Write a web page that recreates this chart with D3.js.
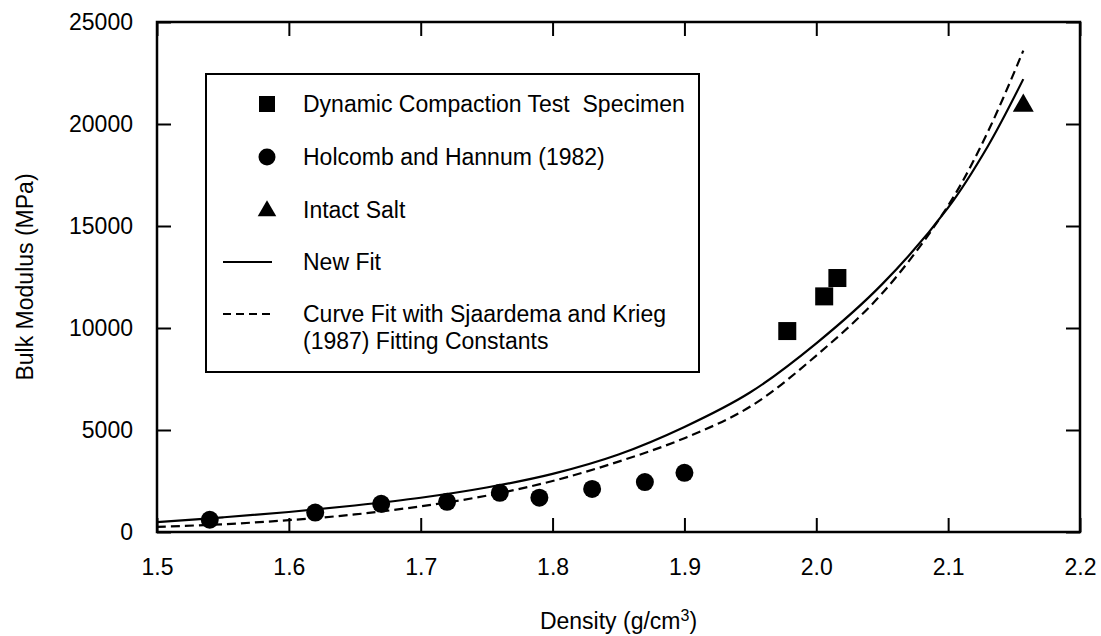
<!DOCTYPE html>
<html>
<head>
<meta charset="utf-8">
<script src="https://cdn.jsdelivr.net/npm/d3@7"></script>
<style>
  body { margin: 0; background: #fff; }
  svg text { font-family: "Liberation Sans", Arial, sans-serif; fill: #000; }
</style>
</head>
<body>
<div id="chart"></div>
<script>
// data
const dynDensity = [1.978, 2.006, 2.016];
const dynModulus = [9850, 11550, 12450];

const holDensity = [1.54, 1.62, 1.67, 1.72, 1.76, 1.79, 1.83, 1.87, 1.90];
const holModulus = [600, 950, 1380, 1480, 1920, 1680, 2110, 2450, 2900];

const saltDensity = [2.157];
const saltModulus = [20900];

const fitDensity = [1.50, 1.55, 1.60, 1.65, 1.70, 1.75, 1.80, 1.85, 1.90, 1.95, 2.00, 2.05, 2.10, 2.13, 2.157];
const newFit = [480, 720, 980, 1300, 1680, 2180, 2850, 3800, 5150, 6850, 9250, 12150, 15900, 18900, 22200];
const skFit = [250, 380, 580, 860, 1260, 1780, 2500, 3450, 4600, 6150, 8650, 11700, 16000, 19600, 23600];

const xTicks = [1.5, 1.6, 1.7, 1.8, 1.9, 2.0, 2.1, 2.2];
const yTicks = [0, 5000, 10000, 15000, 20000, 25000];

const W = 1101, H = 636;
const svg = d3.select('#chart').append('svg')
    .attr('width', W)
    .attr('height', H);

const xScale = d3.scaleLinear().domain([1.5, 2.2]).range([157, 1080]);
const yScale = d3.scaleLinear().domain([0, 25000]).range([532, 22]);

const fs = 23;

// ticks (inward) on all four sides
const tickLen = 14;
const bottomAxis = svg.append('g')
    .attr('transform', `translate(0, ${yScale(0)})`)
    .call(d3.axisBottom(xScale).tickValues(xTicks).tickSize(-tickLen).tickPadding(tickLen + 13)
        .tickFormat(d => d.toFixed(1)));
const topAxis = svg.append('g')
    .attr('transform', `translate(0, ${yScale(25000)})`)
    .call(d3.axisTop(xScale).tickValues(xTicks).tickSize(-tickLen).tickFormat(''));
const leftAxis = svg.append('g')
    .attr('transform', `translate(${xScale(1.5)}, 0)`)
    .call(d3.axisLeft(yScale).tickValues(yTicks).tickSize(-tickLen).tickPadding(tickLen + 10)
        .tickFormat(d3.format('d')));
const rightAxis = svg.append('g')
    .attr('transform', `translate(${xScale(2.2)}, 0)`)
    .call(d3.axisRight(yScale).tickValues(yTicks).tickSize(-tickLen).tickFormat(''));

[bottomAxis, topAxis, leftAxis, rightAxis].forEach(g => {
    g.select('.domain').remove();
    g.selectAll('line').attr('stroke', '#000').attr('stroke-width', 2);
    g.selectAll('text').style('font-size', fs + 'px').attr('font-family', null);
});

// frame
svg.append('rect')
    .attr('x', xScale(1.5))
    .attr('y', yScale(25000))
    .attr('width', xScale(2.2) - xScale(1.5))
    .attr('height', yScale(0) - yScale(25000))
    .attr('fill', 'none')
    .attr('stroke', '#000')
    .attr('stroke-width', 2.5);

// axis titles
svg.append('text')
    .attr('transform', `translate(33, ${(yScale(0) + yScale(25000)) / 2}) rotate(-90)`)
    .attr('text-anchor', 'middle')
    .style('font-size', fs + 'px')
    .text('Bulk Modulus (MPa)');

const xTitle = svg.append('text')
    .attr('x', (xScale(1.5) + xScale(2.2)) / 2)
    .attr('y', 629)
    .attr('text-anchor', 'middle')
    .style('font-size', fs + 'px');
xTitle.append('tspan').text('Density (g/cm');
xTitle.append('tspan').attr('dy', -8).style('font-size', '16px').text('3');
xTitle.append('tspan').attr('dy', 8).text(')');

// curves
const fitLine = vals => d3.line()
    .x((d, i) => xScale(fitDensity[i]))
    .y(d => yScale(d))
    .curve(d3.curveCatmullRom)(vals);

svg.append('path')
    .attr('d', fitLine(newFit))
    .attr('fill', 'none')
    .attr('stroke', '#000')
    .attr('stroke-width', 2.2);

svg.append('path')
    .attr('d', fitLine(skFit))
    .attr('fill', 'none')
    .attr('stroke', '#000')
    .attr('stroke-width', 2.2)
    .attr('stroke-dasharray', '9 5');

// markers
const sq = 18;
svg.selectAll('.dyn')
    .data(dynDensity)
    .enter()
    .append('rect')
    .attr('class', 'dyn')
    .attr('x', d => xScale(d) - sq / 2)
    .attr('y', (d, i) => yScale(dynModulus[i]) - sq / 2)
    .attr('width', sq)
    .attr('height', sq)
    .attr('fill', '#000');

svg.selectAll('.hol')
    .data(holDensity)
    .enter()
    .append('circle')
    .attr('class', 'hol')
    .attr('cx', d => xScale(d))
    .attr('cy', (d, i) => yScale(holModulus[i]))
    .attr('r', 9)
    .attr('fill', '#000');

const tri = d3.symbol().type(d3.symbolTriangle);
svg.selectAll('.salt')
    .data(saltDensity)
    .enter()
    .append('path')
    .attr('class', 'salt')
    .attr('d', tri.size(190)())
    .attr('transform', (d, i) => `translate(${xScale(d)}, ${yScale(saltModulus[i])})`)
    .attr('fill', '#000');

// legend
const legend = svg.append('g');
legend.append('rect')
    .attr('x', 206)
    .attr('y', 74)
    .attr('width', 493)
    .attr('height', 298)
    .attr('fill', '#fff')
    .attr('stroke', '#000')
    .attr('stroke-width', 2);

const mx = 267, tx = 303;
const rows = [104, 157, 210, 262, 314];
legend.append('rect')
    .attr('x', mx - 8).attr('y', rows[0] - 8)
    .attr('width', 16).attr('height', 16)
    .attr('fill', '#000');
legend.append('circle')
    .attr('cx', mx).attr('cy', rows[1]).attr('r', 8.5)
    .attr('fill', '#000');
legend.append('path')
    .attr('d', tri.size(150)())
    .attr('transform', `translate(${mx}, ${rows[2] + 1})`)
    .attr('fill', '#000');
legend.append('line')
    .attr('x1', 223).attr('x2', 272)
    .attr('y1', rows[3]).attr('y2', rows[3])
    .attr('stroke', '#000').attr('stroke-width', 2);
legend.append('line')
    .attr('x1', 223).attr('x2', 272)
    .attr('y1', rows[4]).attr('y2', rows[4])
    .attr('stroke', '#000').attr('stroke-width', 2)
    .attr('stroke-dasharray', '8 5');

const labels = [
    ['Dynamic Compaction Test  Specimen', rows[0]],
    ['Holcomb and Hannum (1982)', rows[1]],
    ['Intact Salt', rows[2]],
    ['New Fit', rows[3]],
    ['Curve Fit with Sjaardema and Krieg', rows[4]],
    ['(1987) Fitting Constants', rows[4] + 27]
];
legend.selectAll('.lab')
    .data(labels)
    .enter()
    .append('text')
    .attr('class', 'lab')
    .attr('x', tx)
    .attr('y', d => d[1] + 8)
    .style('font-size', fs + 'px')
    .style('white-space', 'pre')
    .text(d => d[0]);
</script>
</body>
</html>
